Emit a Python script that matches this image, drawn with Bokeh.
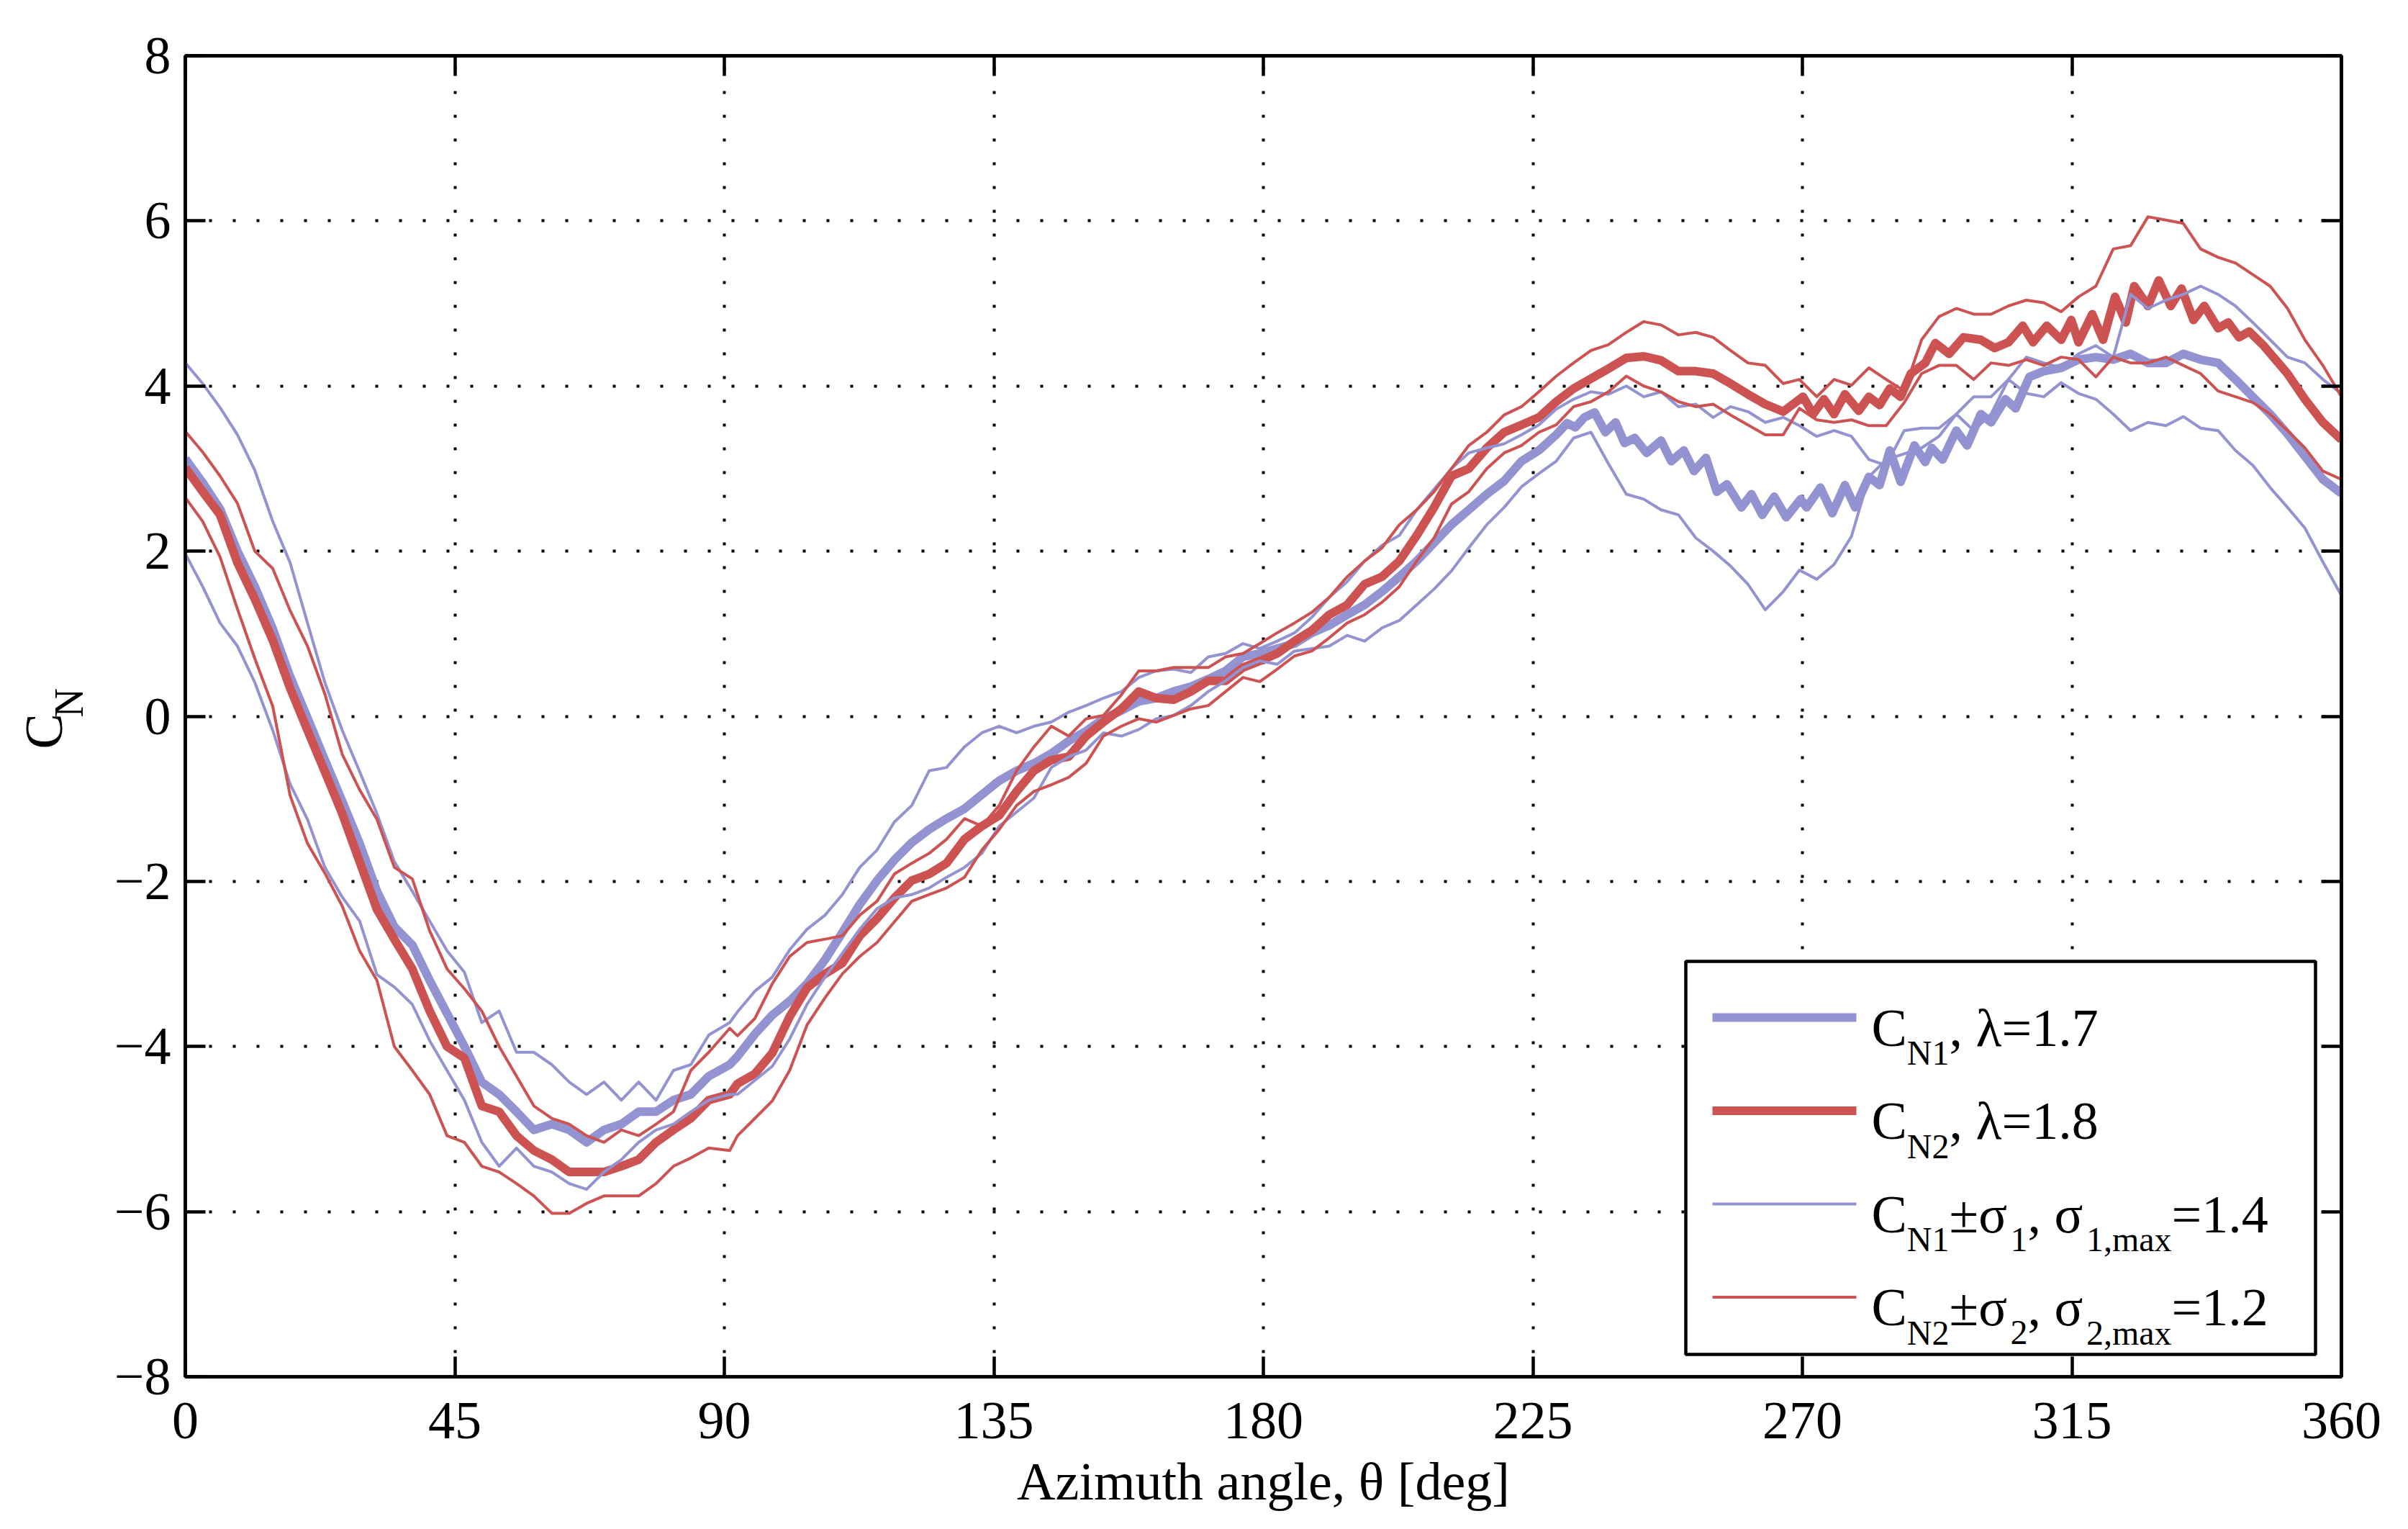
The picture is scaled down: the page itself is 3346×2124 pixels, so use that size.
import math
from bokeh.plotting import figure
from bokeh.layouts import row
from bokeh.models import (Range1d, FixedTicker, LinearAxis, Label, Arrow,
                          BoxAnnotation, CustomJSTickFormatter)
from bokeh.embed import file_html
from bokeh.resources import INLINE

# ---------------- data ----------------
THETA = [0, 2.9, 5.8, 8.7, 11.6, 14.6, 17.5, 20.4, 23.3, 26.2, 29.1, 32.0, 34.9, 37.9, 40.8, 43.7,
         46.6, 49.5, 52.4, 55.3, 58.2, 61.2, 64.1, 67.0, 69.9, 72.8, 75.7, 78.6, 81.5, 84.4, 87.4, 90.9,
         92.2, 95.1, 98.0, 100.9, 103.8, 106.8, 109.7, 112.6, 115.5, 118.4, 121.3, 124.2, 127.1, 130.1,
         133.0, 135.9, 138.8, 141.7, 144.6, 147.5, 150.4, 153.3, 156.3, 159.2, 162.1, 165.0, 167.9,
         170.8, 173.7, 176.6,
         179.4, 182.3, 185.2, 188.1, 191.0, 194.0, 196.9, 199.8, 202.7, 205.6, 208.5, 211.4, 214.3,
         217.3, 220.2, 223.1, 226.0, 228.9, 231.8, 234.7, 237.6, 240.6, 243.5, 246.4, 249.3, 252.2,
         255.1, 258.0, 260.9, 263.8, 266.8,
         269.5, 272.4, 275.3, 278.2, 281.1, 284.0, 287.0, 289.9, 292.8, 295.7, 298.6, 301.5, 304.4,
         307.4, 310.3, 313.2, 316.1, 319.0, 321.9, 324.8, 327.7, 330.7, 333.6, 336.5, 339.4, 342.3,
         345.2, 348.1, 351.0, 353.9, 356.9, 360.0]

# thick mean curves (with the ripple read where it is visible)
CN1_THETA = [0, 2.9, 5.8, 8.7, 11.6, 14.6, 17.5, 20.4, 23.3, 26.2, 29.1, 32.0, 34.9, 37.9, 40.8, 43.7,
             46.6, 49.5, 52.4, 55.3, 58.2, 61.2, 64.1, 67.0, 69.9, 72.8, 75.7, 78.6, 81.5, 84.4, 87.4, 90.9,
             92.2, 95.1, 98.0, 100.9, 103.8, 106.8, 109.7, 112.6, 115.5, 118.4, 121.3, 124.2, 127.1, 130.1,
             133.0, 135.9, 138.8, 141.7, 144.6, 147.5, 150.4, 153.3, 156.3, 159.2, 162.1, 165.0, 167.9,
             170.8, 173.7, 176.6,
             179.4, 182.3, 185.2, 188.1, 191.0, 194.0, 196.9, 199.8, 202.7, 205.6, 208.5, 211.4, 214.3,
             217.3, 220.2, 223.1, 226.0, 228.9,
             230.7, 232.1, 233.6, 235.3, 237.1, 238.8, 240.3, 242.0, 244.0, 246.4, 248.1, 250.2, 251.9,
             253.9, 255.7, 257.4, 259.8, 261.5, 263.3, 265.3, 267.3, 269.7,
             270.7, 273.0, 275.0, 277.1, 278.8, 281.1, 282.9, 284.6, 286.4, 288.7, 290.5, 291.6, 293.4,
             295.7, 297.5, 299.8, 301.5, 303.9, 305.6, 307.9,
             310.3, 313.2, 316.1, 319.0, 321.9, 324.8, 327.7, 330.7, 333.6, 336.5, 339.4, 342.3,
             345.2, 348.1, 351.0, 353.9, 356.9, 360.0]
CN1 = [3.12, 2.83, 2.51, 2.0, 1.57, 1.06, 0.48, -0.02, -0.53, -1.03, -1.54, -2.12, -2.55, -2.77, -3.2, -3.6,
       -4.0, -4.43, -4.58, -4.79, -5.01, -4.94, -5.01, -5.16, -5.01, -4.94, -4.79, -4.79, -4.65, -4.58, -4.36, -4.22,
       -4.12, -3.85, -3.62, -3.45, -3.24, -2.95, -2.62, -2.28, -1.99, -1.74, -1.53, -1.37, -1.24, -1.12,
       -0.95, -0.78, -0.66, -0.57, -0.45, -0.3, -0.18, -0.03, 0.07, 0.18, 0.22, 0.3, 0.36, 0.45, 0.55, 0.72,
       0.76, 0.82, 0.88, 1.01, 1.1, 1.23, 1.35, 1.51, 1.69, 1.88, 2.1, 2.32, 2.5, 2.69, 2.85, 3.09, 3.22, 3.41,
       3.55, 3.50, 3.62, 3.68, 3.44, 3.56, 3.31, 3.37, 3.19, 3.34, 3.09, 3.22, 2.97,
       3.13, 2.72, 2.81, 2.53, 2.69, 2.44, 2.66, 2.41, 2.63,
       2.53, 2.77, 2.46, 2.80, 2.53, 2.90, 2.80, 3.22, 2.84, 3.28, 3.08, 3.25, 3.11,
       3.46, 3.28, 3.66, 3.56, 3.84, 3.73, 4.11,
       4.18, 4.22, 4.32, 4.35, 4.32, 4.39, 4.28, 4.28, 4.39, 4.32, 4.28, 4.08,
       3.87, 3.66, 3.42, 3.15, 2.87, 2.7]

CN2_THETA = [0, 2.9, 5.8, 8.7, 11.6, 14.6, 17.5, 20.4, 23.3, 26.2, 29.1, 32.0, 34.9, 37.9, 40.8, 43.7,
             46.6, 49.5, 52.4, 55.3, 58.2, 61.2, 64.1, 67.0, 69.9, 72.8, 75.7, 78.6, 81.5, 84.4, 87.4, 90.9,
             92.2, 95.1, 98.0, 100.9, 103.8, 106.8, 109.7, 112.6, 115.5, 118.4, 121.3, 124.2, 127.1, 130.1,
             133.0, 135.9, 138.8, 141.7, 144.6, 147.5, 150.4, 153.3, 156.3, 159.2, 162.1, 165.0, 167.9,
             170.8, 173.7, 176.6,
             179.4, 182.3, 185.2, 188.1, 191.0, 194.0, 196.9, 199.8, 202.7, 205.6, 208.5, 211.4, 214.3,
             217.3, 220.2, 223.1, 226.0, 228.9, 231.8, 234.7, 237.6, 240.6, 243.5, 246.4, 249.3, 252.2,
             255.1, 258.0, 260.9, 263.8, 266.8,
             270.1, 271.8, 273.6, 275.3, 277.1, 279.4, 281.1, 282.9, 284.6, 286.4, 288.1,
             290.5, 292.2, 294.5, 296.9, 299.8, 302.1, 304.4, 306.8, 308.5, 310.8, 313.2, 314.9, 316.1,
             318.4, 320.2, 322.2, 324.0, 325.4, 327.7, 329.5, 331.5, 333.3, 335.3, 337.1, 339.4, 341.1,
             342.9, 344.6, 347.0,
             351.0, 353.9, 356.9, 360.0]
CN2 = [3.01, 2.72, 2.44, 1.86, 1.42, 0.92, 0.34, -0.17, -0.67, -1.18, -1.76, -2.34, -2.7, -3.06, -3.57, -4.0,
       -4.14, -4.72, -4.79, -5.08, -5.26, -5.37, -5.52, -5.52, -5.52, -5.45, -5.37, -5.16, -5.01, -4.87, -4.65, -4.58,
       -4.45, -4.33, -4.08, -3.64, -3.29, -3.12, -2.99, -2.66, -2.45, -2.2, -1.99, -1.91, -1.78, -1.49,
       -1.33, -1.2, -0.91, -0.66, -0.53, -0.49, -0.24, -0.07, 0.09, 0.3, 0.22, 0.2, 0.3, 0.43, 0.43, 0.59,
       0.67, 0.76, 0.91, 1.04, 1.23, 1.35, 1.6, 1.69, 1.88, 2.19, 2.53, 2.91, 3.0, 3.25, 3.44, 3.53, 3.62,
       3.81, 3.97, 4.09, 4.21, 4.34, 4.36, 4.31, 4.18, 4.18, 4.15, 4.03, 3.9, 3.78, 3.69,
       3.87, 3.66, 3.84, 3.66, 3.90, 3.70, 3.87, 3.77, 3.97, 3.87, 4.15,
       4.28, 4.52, 4.39, 4.59, 4.56, 4.46, 4.53, 4.73, 4.53, 4.73, 4.56, 4.80, 4.53,
       4.87, 4.56, 5.08, 4.77, 5.21, 4.97, 5.28, 4.97, 5.18, 4.80, 4.97, 4.70, 4.77,
       4.59, 4.66, 4.49,
       4.15, 3.84, 3.56, 3.35]

# mean +/- one standard deviation (thin lines), on THETA
CN1_PLUS = [4.28, 4.03, 3.74, 3.41, 2.98, 2.36, 1.86, 1.13, 0.41, -0.17, -0.67, -1.18, -1.76, -2.12, -2.48, -2.84,
            -3.1, -3.71, -3.57, -4.07, -4.07, -4.22, -4.43, -4.58, -4.43, -4.65, -4.43, -4.65, -4.29, -4.22, -3.86, -3.71,
            -3.58, -3.33, -3.16, -2.83, -2.58, -2.41, -2.16, -1.83, -1.62, -1.28, -1.08, -0.66, -0.62, -0.37,
            -0.2, -0.12, -0.2, -0.12, -0.07, 0.05, 0.13, 0.22, 0.3, 0.47, 0.55, 0.57, 0.53, 0.72, 0.76, 0.88,
            0.82, 0.91, 1.01, 1.2, 1.44, 1.63, 1.88, 2.07, 2.19, 2.5, 2.75, 3.0, 3.19, 3.25, 3.3, 3.41, 3.53,
            3.72, 3.84, 3.93, 3.9, 4.0, 3.87, 3.93, 3.75, 3.78, 3.62, 3.75, 3.69, 3.56, 3.62,
            3.52, 3.39, 3.46, 3.39, 3.11, 3.04, 3.46, 3.49, 3.49, 3.66, 3.87, 3.87, 4.08, 4.35, 4.28, 4.22,
            4.39, 4.49, 4.35, 5.11, 4.94, 5.04, 5.11, 5.21, 5.11, 4.97, 4.77, 4.56, 4.35, 4.28, 4.08, 3.91]

CN1_MINUS = [1.97, 1.57, 1.13, 0.85, 0.41, -0.17, -0.82, -1.25, -1.83, -2.19, -2.48, -3.13, -3.28, -3.49, -3.93, -4.29,
             -4.65, -5.16, -5.45, -5.23, -5.45, -5.52, -5.66, -5.73, -5.52, -5.37, -5.16, -5.01, -4.94, -4.79, -4.65, -4.58,
             -4.58, -4.41, -4.24, -3.91, -3.49, -3.16, -2.87, -2.58, -2.33, -2.2, -2.16, -2.08, -1.95, -1.83,
             -1.66, -1.33, -1.16, -0.99, -0.62, -0.49, -0.41, -0.2, -0.24, -0.16, -0.03, 0.01, 0.13, 0.3, 0.43, 0.59,
             0.67, 0.63, 0.79, 0.82, 0.85, 0.98, 0.91, 1.07, 1.16, 1.35, 1.54, 1.76, 2.04, 2.32, 2.53, 2.78, 2.94,
             3.09, 3.37, 3.44, 3.06, 2.69, 2.63, 2.5, 2.44, 2.16, 2.0, 1.82, 1.6, 1.29, 1.51,
             1.77, 1.66, 1.84, 2.18, 2.9, 3.11, 3.18, 3.25, 3.39, 3.66, 3.46, 3.66, 4.08, 3.91, 3.87, 4.04,
             3.91, 3.84, 3.66, 3.46, 3.56, 3.52, 3.63, 3.49, 3.46, 3.22, 3.04, 2.77, 2.53, 2.28, 1.87, 1.46]

CN2_PLUS = [3.45, 3.2, 2.91, 2.58, 2.0, 1.79, 1.28, 0.85, 0.27, -0.46, -0.89, -1.25, -1.83, -1.97, -2.6, -3.06,
            -3.3, -3.57, -4.0, -4.36, -4.72, -4.87, -4.94, -5.08, -5.16, -5.01, -5.08, -4.94, -4.79, -4.29, -4.07, -3.78,
            -3.87, -3.66, -3.24, -2.91, -2.74, -2.7, -2.66, -2.41, -2.24, -1.91, -1.78, -1.66, -1.49, -1.24,
            -1.33, -1.08, -0.66, -0.37, -0.12, -0.24, -0.03, 0.01, 0.26, 0.55, 0.55, 0.59, 0.59, 0.59, 0.72, 0.76,
            0.88, 1.01, 1.13, 1.26, 1.44, 1.69, 1.88, 2.04, 2.32, 2.5, 2.72, 3.0, 3.28, 3.44, 3.65, 3.75, 3.93,
            4.12, 4.28, 4.43, 4.5, 4.65, 4.78, 4.74, 4.62, 4.65, 4.59, 4.43, 4.28, 4.25, 4.03,
            4.08, 3.87, 4.08, 4.01, 4.22, 4.08, 3.94, 4.56, 4.84, 4.94, 4.87, 4.87, 4.97, 5.04, 5.01, 4.9,
            5.08, 5.21, 5.66, 5.7, 6.05, 6.01, 5.97, 5.66, 5.56, 5.49, 5.35, 5.21, 4.94, 4.56, 4.25, 3.87]

CN2_MINUS = [2.65, 2.36, 1.93, 1.3, 0.7, 0.12, -0.96, -1.54, -1.9, -2.3, -2.84, -3.2, -4.0, -4.29, -4.58, -5.08,
             -5.16, -5.45, -5.52, -5.66, -5.81, -6.02, -6.02, -5.9, -5.81, -5.81, -5.81, -5.66, -5.45, -5.35, -5.23, -5.26,
             -5.08, -4.87, -4.66, -4.29, -3.74, -3.41, -3.12, -2.91, -2.74, -2.49, -2.24, -2.16, -2.08, -1.95,
             -1.62, -1.37, -1.08, -0.91, -0.83, -0.74, -0.57, -0.24, -0.12, -0.03, -0.07, 0.01, 0.09, 0.13, 0.3, 0.47,
             0.42, 0.57, 0.73, 0.79, 0.95, 1.13, 1.23, 1.38, 1.57, 1.88, 2.16, 2.57, 2.72, 3.0, 3.19, 3.28, 3.44,
             3.53, 3.75, 3.81, 3.93, 4.12, 4.0, 3.93, 3.81, 3.75, 3.78, 3.65, 3.53, 3.41, 3.41,
             3.73, 3.59, 3.56, 3.59, 3.52, 3.52, 3.8, 4.15, 4.25, 4.25, 4.08, 4.28, 4.25, 4.32, 4.25, 4.35,
             4.32, 4.11, 4.35, 4.28, 4.28, 4.35, 4.25, 4.15, 3.94, 3.87, 3.8, 3.66, 3.46, 3.25, 2.97, 2.87]

X_TICKS = [0, 45, 90, 135, 180, 225, 270, 315, 360]
Y_TICKS = [-8, -6, -4, -2, 0, 2, 4, 6, 8]
Y_TICK_LABELS = ["\u22128", "\u22126", "\u22124", "\u22122", "0", "2", "4", "6", "8"]
X_LABEL = "Azimuth angle, \u03b8 [deg]"
Y_LABEL = ("C", "N")

LEGEND = [
    [("C", "M"), ("N1", "S"), (", \u03bb=1.7", "M")],
    [("C", "M"), ("N2", "S"), (", \u03bb=1.8", "M")],
    [("C", "M"), ("N1", "S"), ("\u00b1\u03c3", "M"), ("1", "S"), (", \u03c3", "M"), ("1,max", "S"), ("=1.4", "M")],
    [("C", "M"), ("N2", "S"), ("\u00b1\u03c3", "M"), ("2", "S"), (", \u03c3", "M"), ("2,max", "S"), ("=1.2", "M")],
]

# ---------------- style ----------------
BLUE = "#9393D2"
RED = "#CD5353"
FONT = "Liberation Serif"
FS = 74          # main font px
FS_SUB = 48      # legend subscript px
TOTAL_W, TOTAL_H = 3330, 2108
FRAME_W, FRAME_H = 2996, 1835
LEFT, TOP = 257, 77
STRIP_W = 150    # narrow strip holding the rotated y-axis label

p = figure(width=TOTAL_W - STRIP_W, height=TOTAL_H, frame_width=FRAME_W, frame_height=FRAME_H,
           x_range=Range1d(0, 360), y_range=Range1d(-8, 8),
           output_backend="svg", toolbar_location=None,
           min_border_left=LEFT - STRIP_W, min_border_right=TOTAL_W - LEFT - FRAME_W,
           min_border_top=TOP, min_border_bottom=TOTAL_H - TOP - FRAME_H)
p.background_fill_color = "white"
p.border_fill_color = "white"
p.outline_line_color = "black"
p.outline_line_width = 4.5

xt = FixedTicker(ticks=X_TICKS, minor_ticks=[])
yt = FixedTicker(ticks=Y_TICKS, minor_ticks=[])

for ax in (p.xaxis[0], p.yaxis[0]):
    ax.axis_line_width = 4.5
    ax.major_tick_line_width = 4.5
    ax.major_tick_in = 28
    ax.major_tick_out = 0
    ax.minor_tick_line_color = None
    ax.major_label_text_font = FONT
    ax.major_label_text_font_size = f"{FS}px"
    ax.major_label_text_color = "black"
p.xaxis[0].ticker = xt
p.yaxis[0].ticker = yt
p.xaxis[0].major_label_standoff = 36
p.yaxis[0].major_label_standoff = 20
p.yaxis[0].major_label_overrides = {v: s for v, s in zip(Y_TICKS, Y_TICK_LABELS)}
p.xaxis[0].axis_label = X_LABEL
p.xaxis[0].axis_label_text_font = FONT
p.xaxis[0].axis_label_text_font_size = f"{FS}px"
p.xaxis[0].axis_label_text_font_style = "normal"
p.xaxis[0].axis_label_text_color = "black"
p.xaxis[0].axis_label_standoff = 16

blank = CustomJSTickFormatter(code="return ''")
for loc, tk in (("above", xt), ("right", yt)):
    ax = LinearAxis(ticker=tk, formatter=blank, axis_line_width=4.5, major_tick_line_width=4.5,
                    major_tick_in=28, major_tick_out=0, minor_tick_line_color=None,
                    major_label_standoff=0, major_label_text_font_size="1px")
    p.add_layout(ax, loc)

for g, tk in ((p.xgrid[0], xt), (p.ygrid[0], yt)):
    g.ticker = tk
    g.grid_line_color = "black"
    g.grid_line_width = 4
    g.grid_line_dash = "4 29"

# ---------------- curves ----------------
p.line(CN1_THETA, CN1, line_color=BLUE, line_width=12, line_join="round")
p.line(CN2_THETA, CN2, line_color=RED, line_width=12, line_join="round")
p.line(THETA, CN1_PLUS, line_color=BLUE, line_width=4, line_join="round")
p.line(THETA, CN1_MINUS, line_color=BLUE, line_width=4, line_join="round")
p.line(THETA, CN2_PLUS, line_color=RED, line_width=4, line_join="round")
p.line(THETA, CN2_MINUS, line_color=RED, line_width=4, line_join="round")


def lab(text, x, y, size, angle=0.0):
    return Label(x=x, y=y, x_units="screen", y_units="screen", text=text, angle=angle,
                 text_font=FONT, text_font_size=f"{size}px", text_color="black",
                 text_align="left", text_baseline="alphabetic")


# ---------------- legend (inside the frame, frame-relative screen units) ----------------
box = BoxAnnotation(left=2085, right=2960, top=577, bottom=31,
                    left_units="screen", right_units="screen", top_units="screen", bottom_units="screen",
                    fill_color="white", fill_alpha=1.0, line_color="black", line_alpha=1.0,
                    line_width=4.5, line_dash="solid", level="annotation")
p.add_layout(box)

EM = {"C": .667, "N": .722, "1": .5, "2": .5, ",": .25, " ": .25, "\u03bb": .55, "=": .564, ".": .25,
      "7": .5, "8": .5, "4": .5, "\u00b1": .549, "\u03c3": .6, "m": .778, "a": .444, "x": .5}
line_y0 = 499
row_gap = 129.5
styles = [(BLUE, 12), (RED, 12), (BLUE, 4), (RED, 4)]
for i, pieces in enumerate(LEGEND):
    ly = line_y0 - i * row_gap
    col, lw = styles[i]
    p.add_layout(Arrow(end=None, x_start=2122, y_start=ly, x_end=2322, y_end=ly,
                       start_units="screen", end_units="screen",
                       line_color=col, line_width=lw, line_cap="butt"))
    x = 2343
    for text, kind in pieces:
        size = FS if kind == "M" else FS_SUB
        base = ly - 14 if kind == "M" else ly - 49
        p.add_layout(lab(text, x, base, size))
        x += sum(EM.get(c, .5) for c in text) * size

# ---------------- y-axis label C_N in its own narrow strip ----------------
# (its frame is aligned with the main frame by the row layout, so y is measured
#  upward from the main frame's bottom edge)
ystrip = figure(width=STRIP_W, height=TOTAL_H, x_range=Range1d(0, STRIP_W), y_range=Range1d(0, FRAME_H),
                x_axis_location=None, y_axis_location=None, toolbar_location=None,
                output_backend="svg", min_border=0)
ystrip.outline_line_color = None
ystrip.grid.visible = False
ystrip.background_fill_color = "white"
ystrip.border_fill_color = "white"
ystrip.add_layout(lab(Y_LABEL[0], 60, 872, FS, math.pi / 2))
ystrip.add_layout(lab(Y_LABEL[1], 95, 916, 56, math.pi / 2))

layout = row(ystrip, p)
open("out.html", "w").write(file_html(layout, INLINE))
